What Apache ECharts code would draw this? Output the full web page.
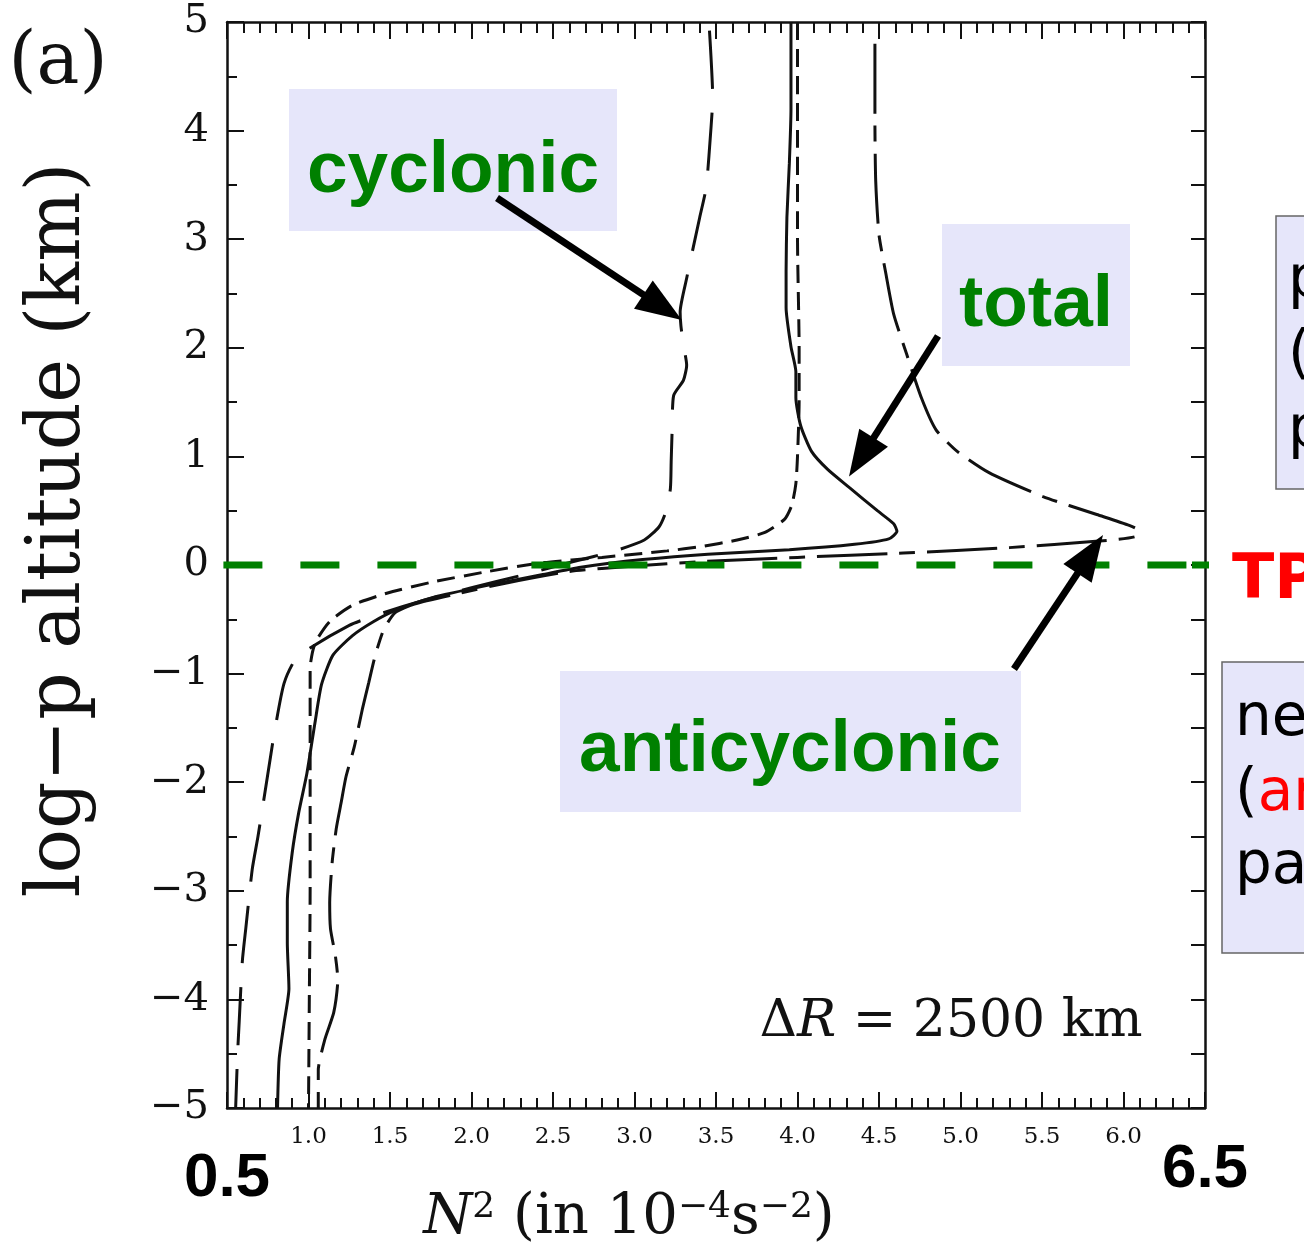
<!DOCTYPE html>
<html>
<head>
<meta charset="utf-8">
<script src="https://cdn.jsdelivr.net/npm/echarts@6/dist/echarts.min.js"></script>
<style>
  html, body { margin: 0; padding: 0; background: #fff; }
  #chart { width: 1304px; height: 1258px; }
</style>
</head>
<body>
<div id="chart"></div>
<script>
// Profiles of N^2 (10^-4 s^-2) against log-p altitude (km), tropopause at z = 0.
// Each profile is a list of [N2, z] pairs, read top to bottom.
const cyclonic = [
  [3.46, 4.92], [3.48, 4.30], [3.47, 4.04], [3.44, 3.48], [3.40, 3.20], [3.32, 2.64],
  [3.28, 2.33], [3.285, 2.20], [3.30, 2.03], [3.32, 1.84], [3.30, 1.70], [3.24, 1.56],
  [3.23, 1.20], [3.225, 0.95], [3.22, 0.70], [3.19, 0.48], [3.15, 0.35], [3.06, 0.23],
  [2.88, 0.13], [2.62, 0.03], [2.32, -0.09], [2.00, -0.21], [1.72, -0.32], [1.46, -0.44],
  [1.25, -0.556], [0.93, -0.85], [0.85, -1.09], [0.79, -1.55], [0.75, -1.93], [0.69, -2.50],
  [0.655, -2.80], [0.615, -3.35], [0.594, -3.65], [0.575, -4.20], [0.565, -4.50], [0.553, -5.00]
];
const total = [
  [3.96, 5.00], [3.96, 4.20], [3.95, 3.70], [3.935, 3.20], [3.93, 2.70], [3.93, 2.37],
  [3.96, 2.01], [3.99, 1.78], [3.99, 1.54], [4.02, 1.28], [4.086, 1.046], [4.185, 0.88],
  [4.317, 0.714], [4.49, 0.50], [4.59, 0.38], [4.61, 0.31], [4.56, 0.24], [4.35, 0.19],
  [3.95, 0.14], [3.45, 0.10], [3.05, 0.05], [2.67, -0.02], [2.43, -0.09], [2.09, -0.19],
  [1.76, -0.30], [1.53, -0.42], [1.40, -0.52], [1.27, -0.65], [1.15, -0.83], [1.08, -1.10],
  [1.04, -1.45], [0.99, -1.92], [0.94, -2.28], [0.90, -2.65], [0.87, -3.10], [0.87, -3.48],
  [0.88, -3.90], [0.85, -4.22], [0.82, -4.55], [0.81, -5.00]
];
const reference = [
  [4.00, 5.00], [4.00, 4.00], [4.00, 3.00], [4.01, 2.00], [4.01, 1.50], [4.00, 1.00],
  [3.99, 0.75], [3.965, 0.55], [3.92, 0.42], [3.80, 0.30], [3.63, 0.23], [3.41, 0.17],
  [3.20, 0.13], [2.80, 0.07], [2.43, 0.02], [2.10, -0.06], [1.75, -0.16], [1.48, -0.26],
  [1.27, -0.37], [1.13, -0.52], [1.04, -0.72], [1.01, -0.95], [1.01, -2.00], [1.01, -3.00],
  [1.005, -4.00], [1.00, -5.00]
];
const anticyclonic = [
  [4.475, 4.80], [4.475, 4.07], [4.48, 3.53], [4.50, 3.04], [4.54, 2.70], [4.59, 2.31],
  [4.67, 1.94], [4.76, 1.54], [4.85, 1.245], [4.98, 1.046], [5.175, 0.85], [5.506, 0.63],
  [5.836, 0.465], [6.035, 0.365], [6.09, 0.32], [6.07, 0.26], [5.85, 0.22], [5.30, 0.16],
  [4.65, 0.11], [4.00, 0.07], [3.40, 0.03], [3.00, -0.01], [2.60, -0.06], [2.20, -0.17],
  [1.90, -0.27], [1.65, -0.36], [1.53, -0.44], [1.46, -0.60], [1.41, -0.83], [1.37, -1.08],
  [1.33, -1.33], [1.28, -1.68], [1.23, -1.95], [1.20, -2.19], [1.17, -2.43], [1.145, -2.74],
  [1.13, -3.11], [1.135, -3.35], [1.165, -3.60], [1.18, -3.82], [1.155, -4.12], [1.10, -4.37],
  [1.06, -4.65], [1.06, -5.00]
];

// Axis ranges
const xRange = [0.5, 6.5];
const yRange = [-5, 5];
const tropopause = 0;
const tpExtent = [0.478, 6.40, 6.42, 6.66];

// Points the annotation arrows aim at, [N2, z]
const arrowTargets = {
  cyclonic: [3.29, 2.256],
  total: [4.316, 0.814],
  anticyclonic: [5.874, 0.276]
};

const chart = echarts.init(document.getElementById('chart'), null, { renderer: 'canvas' });
const INK = '#111';
const SERIF = '"DejaVu Serif", "Liberation Serif", serif';
const SANS = '"Liberation Sans", Arial, sans-serif';

function profile(name, data, type) {
  return {
    name, type: 'line', data, showSymbol: false, smooth: 0.2, z: 3,
    lineStyle: { color: INK, width: 3, type },
    emphasis: { disabled: true }
  };
}

const frameLine = { onZero: false, lineStyle: { color: INK, width: 2.5 } };

chart.setOption({
  animation: false,
  backgroundColor: '#fff',
  grid: { left: 227, top: 22, width: 978, height: 1086 },
  xAxis: [{
    type: 'value', min: xRange[0], max: xRange[1], interval: 0.5, position: 'bottom',
    axisLine: frameLine,
    axisTick: { inside: true, length: 16, lineStyle: { color: INK, width: 2 } },
    minorTick: { show: true, splitNumber: 5, length: 10, lineStyle: { color: INK, width: 2 } },
    splitLine: { show: false },
    axisLabel: {
      margin: 18, color: INK, fontFamily: SERIF, fontSize: 23,
      formatter: v => v === xRange[0] ? '{lo|' + v.toFixed(1) + '}'
        : v === xRange[1] ? '{hi|' + v.toFixed(1) + '}' : v.toFixed(1),
      rich: {
        lo: { fontFamily: SANS, fontWeight: 'bold', fontSize: 62, color: '#000', padding: [22, 0, 0, 0] },
        hi: { fontFamily: SANS, fontWeight: 'bold', fontSize: 62, color: '#000', padding: [13, 0, 0, 0] }
      }
    }
  }, {
    type: 'value', min: xRange[0], max: xRange[1], interval: 0.5, position: 'top',
    axisLine: frameLine,
    axisTick: { inside: true, length: 17, lineStyle: { color: INK, width: 2 } },
    minorTick: { show: true, splitNumber: 5, length: 11, lineStyle: { color: INK, width: 2 } },
    splitLine: { show: false },
    axisLabel: { show: false }
  }],
  yAxis: [{
    type: 'value', min: yRange[0], max: yRange[1], interval: 1, position: 'left',
    axisLine: frameLine,
    axisTick: { inside: true, length: 17, lineStyle: { color: INK, width: 2 } },
    minorTick: { show: true, splitNumber: 2, length: 10, lineStyle: { color: INK, width: 2 } },
    splitLine: { show: false },
    axisLabel: {
      margin: 18, color: INK, fontFamily: SERIF, fontSize: 40,
      formatter: v => String(v).replace('-', '\u2212')
    }
  }, {
    type: 'value', min: yRange[0], max: yRange[1], interval: 0.5, position: 'right',
    axisLine: frameLine,
    axisTick: { inside: true, length: 14, lineStyle: { color: INK, width: 2 } },
    splitLine: { show: false },
    axisLabel: { show: false }
  }],
  series: [
    profile('cyclonic', cyclonic, [58, 24]),
    profile('reference', reference, [18, 9]),
    profile('anticyclonic', anticyclonic, [70, 12, 16, 12]),
    profile('total', total, 'solid'),
    {
      name: 'TP', type: 'line', showSymbol: false, clip: false, z: 5, silent: true,
      data: [[tpExtent[0], tropopause], [tpExtent[1], tropopause]],
      lineStyle: { color: '#008000', width: 7, type: [39, 38], cap: 'butt' }
    },
    {
      name: 'TP end', type: 'line', showSymbol: false, clip: false, z: 5, silent: true,
      data: [[tpExtent[2], tropopause], [tpExtent[3], tropopause]],
      lineStyle: { color: '#008000', width: 7 }
    }
  ]
});

// Annotation arrows: thick shaft with a filled triangular head
function arrow(tail, tip) {
  const dx = tip[0] - tail[0], dy = tip[1] - tail[1];
  const len = Math.hypot(dx, dy), ux = dx / len, uy = dy / len;
  const headL = 46, headW = 34;
  const bx = tip[0] - ux * headL, by = tip[1] - uy * headL;
  return [
    { type: 'line', z: 20, shape: { x1: tail[0], y1: tail[1], x2: bx + ux * 3, y2: by + uy * 3 },
      style: { stroke: '#000', lineWidth: 7 } },
    { type: 'polygon', z: 20,
      shape: { points: [tip, [bx - uy * headW / 2, by + ux * headW / 2], [bx + uy * headW / 2, by - ux * headW / 2]] },
      style: { fill: '#000' } }
  ];
}

function labelBox(x, y, w, h, text, cx, cy) {
  return [
    { type: 'rect', z: 15, shape: { x, y, width: w, height: h }, style: { fill: '#e6e6fa' } },
    { type: 'text', z: 16, x: cx, y: cy,
      style: { text, fill: '#008000', fontFamily: SANS, fontWeight: 'bold', fontSize: 73,
               align: 'center', verticalAlign: 'middle' } }
  ];
}

function sideText(x, y, text) {
  return { type: 'text', z: 16, x, y,
    style: { text, fill: '#000', fontFamily: '"DejaVu Sans", sans-serif', fontSize: 58,
             align: 'left', verticalAlign: 'middle',
             rich: { r: { fill: '#ff0000', fontFamily: '"DejaVu Sans", sans-serif', fontSize: 58 } } } };
}

const px = p => chart.convertToPixel({ xAxisIndex: 0, yAxisIndex: 0 }, p);

const graphics = [].concat(
  labelBox(289, 89, 328, 142, 'cyclonic', 453, 172),
  labelBox(942, 224, 188, 142, 'total', 1036, 306),
  labelBox(560, 671, 461, 141, 'anticyclonic', 790, 751),
  arrow([497, 198], px(arrowTargets.cyclonic)),
  arrow([938, 336], px(arrowTargets.total)),
  arrow([1014, 669], px(arrowTargets.anticyclonic)),
  [
    { type: 'text', z: 16, x: 58, y: 64,
      style: { text: '(a)', fill: INK, fontFamily: SERIF, fontSize: 72, align: 'center', verticalAlign: 'middle' } },
    { type: 'text', z: 16, x: 60, y: 530, rotation: Math.PI / 2,
      style: { text: 'log\u2212p altitude (km)', fill: INK, fontFamily: SERIF, fontSize: 74,
               align: 'center', verticalAlign: 'middle' } },
    { type: 'text', z: 16, x: 629, y: 1218,
      style: { text: '{i|N}{s|2} (in 10{s|\u22124}s{s|\u22122})', fill: INK, fontFamily: SERIF, fontSize: 56,
               align: 'center', verticalAlign: 'middle',
               rich: { i: { fontFamily: SERIF, fontStyle: 'italic', fontSize: 56, fill: INK },
                       s: { fontFamily: SERIF, fontSize: 36, fill: INK, verticalAlign: 'top' } } } },
    { type: 'text', z: 16, x: 951, y: 1022,
      style: { text: '\u0394{i|R} = 2500 km', fill: INK, fontFamily: SERIF, fontSize: 52,
               align: 'center', verticalAlign: 'middle',
               rich: { i: { fontFamily: SERIF, fontStyle: 'italic', fontSize: 52, fill: INK } } } },
    { type: 'text', z: 16, x: 1232, y: 582,
      style: { text: 'TP', fill: '#ff0000', fontFamily: '"DejaVu Sans", sans-serif', fontWeight: 'bold',
               fontSize: 62, align: 'left', verticalAlign: 'middle' } },
    { type: 'rect', z: 15, shape: { x: 1276, y: 216, width: 120, height: 273 },
      style: { fill: '#e6e6fa', stroke: '#666', lineWidth: 1.5 } },
    sideText(1288, 282, 'positive'),
    sideText(1288, 357, '({r|cyclonic})'),
    sideText(1288, 432, 'part'),
    { type: 'rect', z: 15, shape: { x: 1222, y: 662, width: 160, height: 291 },
      style: { fill: '#e6e6fa', stroke: '#666', lineWidth: 1.5 } },
    sideText(1235, 720, 'negative'),
    sideText(1235, 795, '({r|anticyclonic})'),
    sideText(1235, 868, 'part')
  ]
);

chart.setOption({ graphic: graphics });
</script>
</body>
</html>
